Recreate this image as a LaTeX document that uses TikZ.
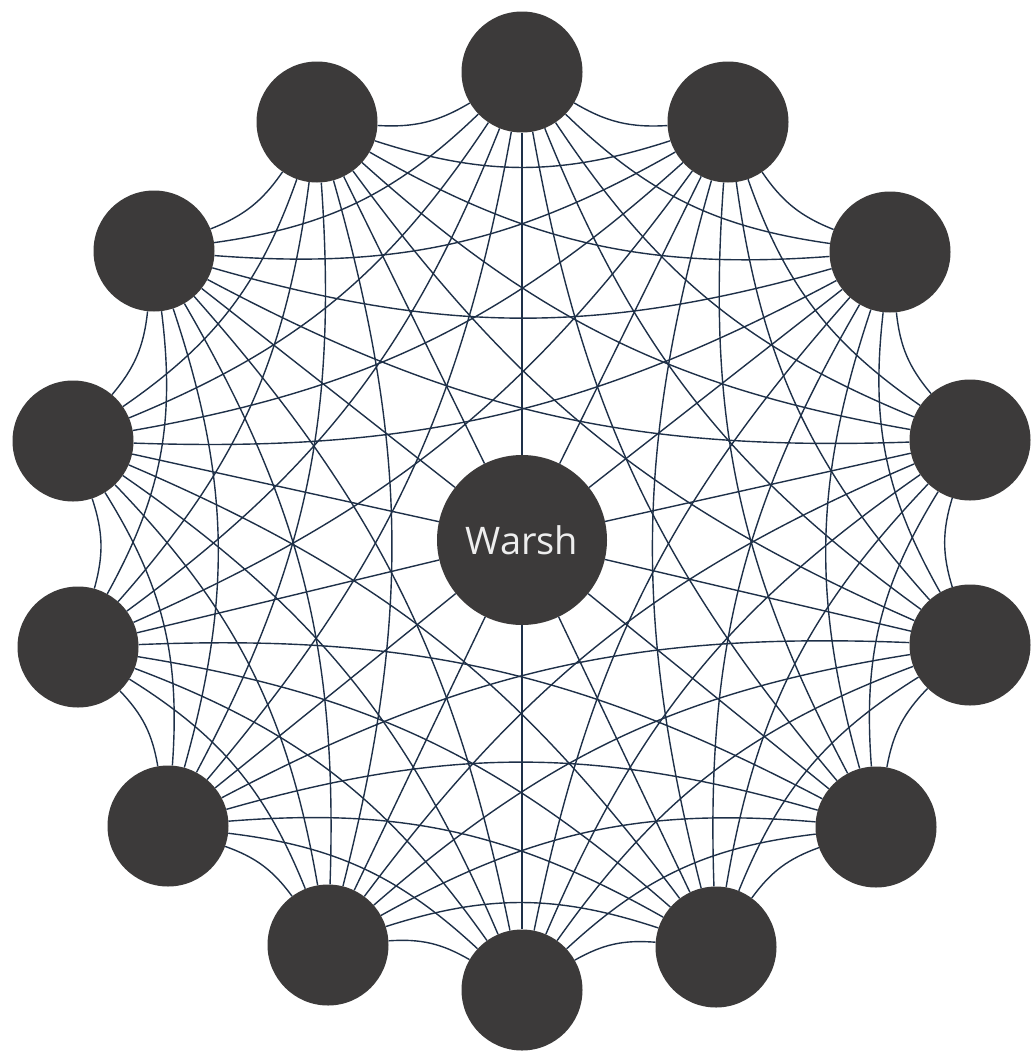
\documentclass[tikz,border=0pt]{standalone}
\usepackage{fontspec}
\setsansfont{Open Sans}
\usetikzlibrary{backgrounds}
\definecolor{peerFill}{HTML}{3C3A3A}
\definecolor{linkStroke}{HTML}{1E3048}
\definecolor{hubText}{HTML}{EEEEEE}
\tikzset{
  peer/.style = {circle, fill=peerFill, minimum size=121pt, inner sep=0pt},
  hub/.style = {
    circle, fill=peerFill, minimum size=170pt, inner sep=0pt,
    text=hubText, font=\sffamily\fontsize{38}{40}\selectfont,
  },
  link/.style = {draw=linkStroke, line width=1.4pt},
}

\begin{document}
\begin{tikzpicture}[x=1pt, y=1pt]
\useasboundingbox (0,0) rectangle (1033,-1055);

% outer ring, clockwise from the top
\foreach \i/\x/\y in {0/522/72, 1/728/122, 2/890/252, 3/970/440,
    4/970/645, 5/876/827, 6/716/947, 7/522/990, 8/328/945,
    9/168/826, 10/78/647, 11/73/441, 12/154/251, 13/317/122}
  \node[peer] (n\i) at (\x,-\y) {};
\node[hub] (warsh) at (522,-540) {Warsh};

% every ring node links to the hub and to its five nearest on each side
\begin{scope}[on background layer]
\foreach \i in {0,...,13} {
  \draw[link] (warsh) -- (n\i);
  \foreach \k in {1,...,5} {
    \pgfmathtruncatemacro\j{mod(\i+\k,14)}
    \pgfmathsetmacro\bendangle{{17,18,17,16,15}[\k-1]}
    \draw[link] (n\i) to[bend right=\bendangle] (n\j);
  }
}
\end{scope}
\end{tikzpicture}
\end{document}
